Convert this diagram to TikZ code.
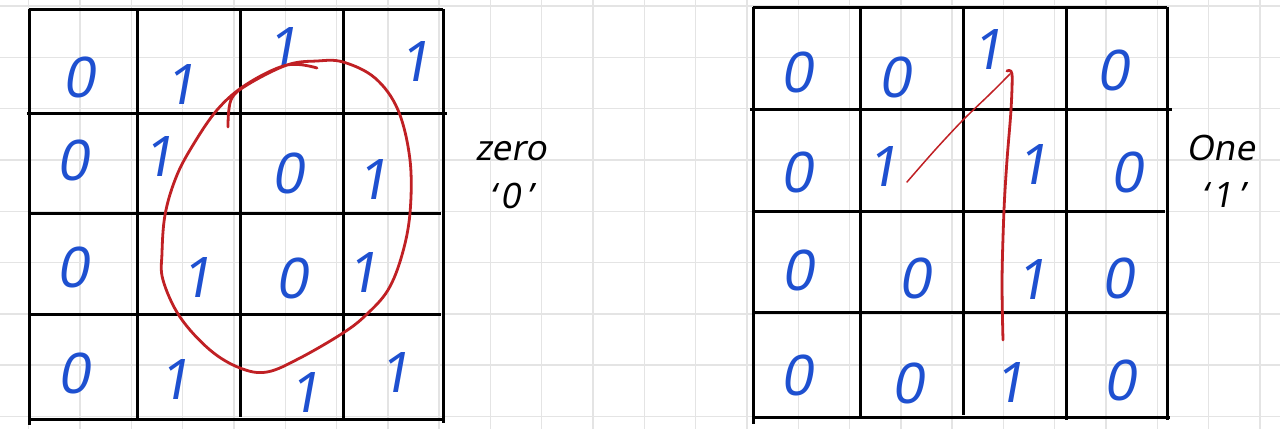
\documentclass[tikz,border=0pt]{standalone}
\usepackage{fontspec}
\setmainfont{Noto Sans}
\newfontfamily\hand[FakeSlant=0.18]{Noto Sans}
\definecolor{inkblue}{RGB}{30,80,208}
\definecolor{inkred}{RGB}{192,32,36}
\definecolor{paper}{RGB}{228,228,228}
\tikzset{
  dig/.style={inner sep=0pt, text=inkblue, font=\hand\fontsize{56}{56}\selectfont},
  lbl/.style={inner sep=0pt, text=black, font=\hand\fontsize{35}{35}\selectfont},
  gridline/.style={line width=3pt, black},
  paperline/.style={line width=1.4pt, paper},
  redpen/.style={line width=2.8pt, inkred, line cap=round, line join=round},
  redthin/.style={line width=1.5pt, inkred, line cap=round}
}
\begin{document}
\begin{tikzpicture}[x=1pt,y=-1pt]
\useasboundingbox (0,0) rectangle (1280,429);
\fill[white] (0,0) rectangle (1280,429);
% paper grid
\foreach \i in {0,...,24} {\draw[paperline] ({28.7+51.3*\i},0) -- ({28.7+51.3*\i},429);}
\foreach \j in {0,...,8} {\draw[paperline] (0,{6+51.3*\j}) -- (1280,{6+51.3*\j});}
% left grid
\draw[gridline] (29,9) -- (443,9);
\draw[gridline] (27,113) -- (447,113);
\draw[gridline] (29,213) -- (441,213);
\draw[gridline] (31,314) -- (441,314);
\draw[gridline] (29,419) -- (445,419);
\draw[gridline] (29,9) -- (29,425);
\draw[gridline] (137,9) -- (137,419);
\draw[gridline] (240,9) -- (240,417);
\draw[gridline] (343,9) -- (343,421);
\draw[gridline] (443,9) -- (443,423);
% right grid
\draw[gridline] (753,7) -- (1167,7);
\draw[gridline] (750,109) -- (1172,109);
\draw[gridline] (753,211) -- (1165,211);
\draw[gridline] (753,312) -- (1167,312);
\draw[gridline] (752,417) -- (1170,417);
\draw[gridline] (753,7) -- (753,424);
\draw[gridline] (860,7) -- (860,417);
\draw[gridline] (963,7) -- (963,415);
\draw[gridline] (1066,7) -- (1066,420);
\draw[gridline] (1167,7) -- (1167,420);
% left digits
\node[dig] (a11) at (79,77) {0};
\node[dig] (a12) at (181,85) {1};
\node[dig] (a13) at (283,48) {1};
\node[dig] (a14) at (415,62) {1};
\node[dig] (a21) at (73,160) {0};
\node[dig] (a22) at (159,157) {1};
\node[dig] (a23) at (288,173) {0};
\node[dig] (a24) at (373,180) {1};
\node[dig] (a31) at (73,267) {0};
\node[dig] (a32) at (197,278) {1};
\node[dig] (a33) at (292,278) {0};
\node[dig] (a34) at (363,273) {1};
\node[dig] (a41) at (74,373) {0};
\node[dig] (a42) at (175,380) {1};
\node[dig] (a43) at (305,393) {1};
\node[dig] (a44) at (395,373) {1};
% right digits
\node[dig] (b11) at (797,72) {0};
\node[dig] (b12) at (895,77) {0};
\node[dig] (b13) at (988,50) {1};
\node[dig] (b14) at (1113,70) {0};
\node[dig] (b21) at (797,172) {0};
\node[dig] (b22) at (883,167) {1};
\node[dig] (b23) at (1033,165) {1};
\node[dig] (b24) at (1127,172) {0};
\node[dig] (b31) at (798,270) {0};
\node[dig] (b32) at (915,278) {0};
\node[dig] (b33) at (1032,280) {1};
\node[dig] (b34) at (1118,278) {0};
\node[dig] (b41) at (797,375) {0};
\node[dig] (b42) at (908,383) {0};
\node[dig] (b43) at (1010,383) {1};
\node[dig] (b44) at (1120,380) {0};
% labels
\node[lbl] (zero) at (511,151) {zero};
\node[lbl] (zeroq) at (511,196) {‘\,0\,’};
\node[lbl] (one) at (1221,148) {One};
\node[lbl] (oneq) at (1223,195) {‘\,1\,’};
% red loop (left)
\draw[redpen] plot[smooth, tension=0.6] coordinates {
 (228,127) (231,100) (247,85) (287,65) (317,61) (343,62) (375,78) (398,110)
 (410,160) (410,213) (402,255) (388,290) (366,315) (343,333) (300,358)
 (267,372) (240,368) (210,350) (180,317) (163,280) (162,253) (165,215)
 (175,180) (190,150) (217,110) (247,84) (287,65) (317,68)};
% red "1" (right)
\draw[redthin] plot[smooth, tension=0.5] coordinates {(907,182) (935,150) (963,120) (990,94) (1010,74)};
\draw[redpen] plot[smooth, tension=0.5] coordinates {(1007,71) (1012,74) (1011,110) (1007,160) (1004,210) (1002,280) (1003,340)};
\end{tikzpicture}
\end{document}
